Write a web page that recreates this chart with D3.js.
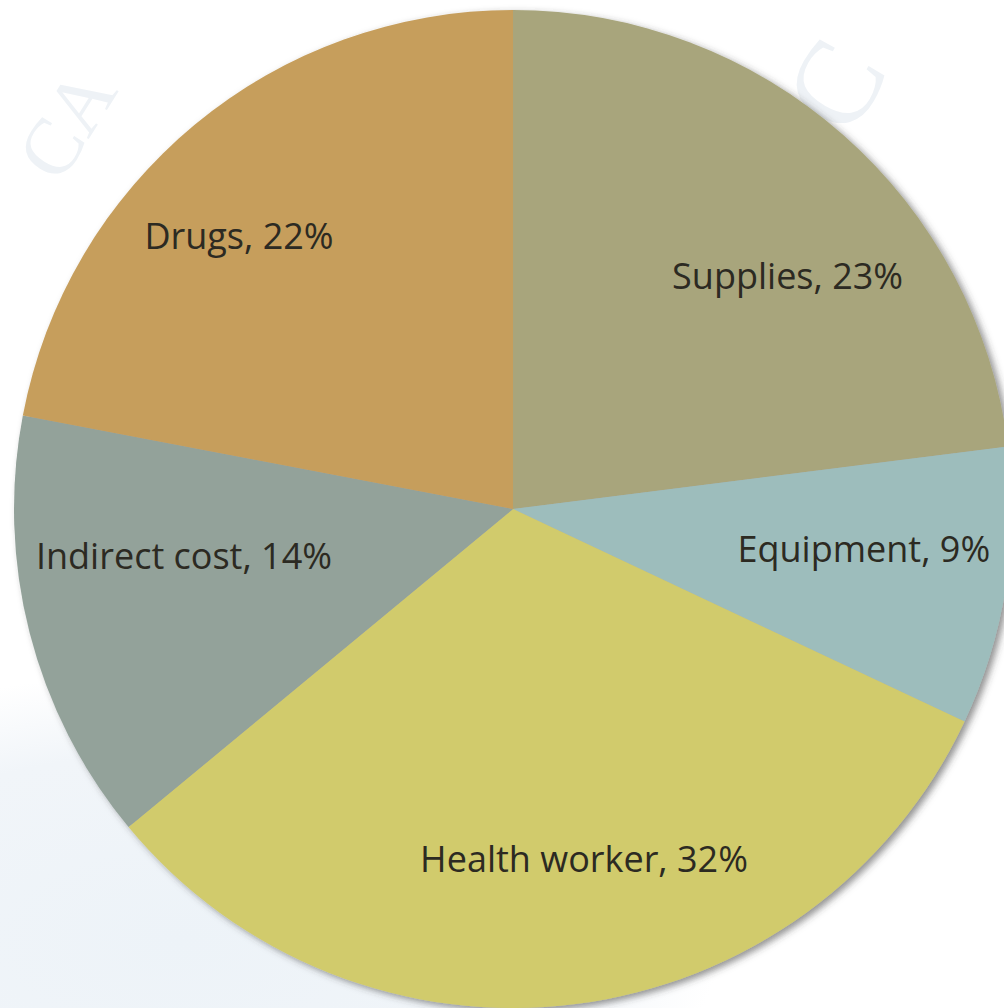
<!DOCTYPE html>
<html>
<head>
<meta charset="utf-8">
<script src="https://cdn.jsdelivr.net/npm/d3@7"></script>
<style>
  html, body { margin: 0; padding: 0; background: #ffffff; }
  svg { display: block; }
</style>
</head>
<body>
<svg id="chart" width="1004" height="1008"></svg>
<script>
// Cost breakdown by category (percent of total)
const categories = ["Supplies", "Equipment", "Health worker", "Indirect cost", "Drugs"];
const shares = [23, 9, 32, 14, 22];
const colors = ["#A8A57C", "#9DBDBC", "#D1CB6C", "#93A29A", "#C69E5C"];

const width = 1004, height = 1008;
const cx = 513, cy = 509, radius = 499;

const svg = d3.select("#chart");
const defs = svg.append("defs");

// soft shadow under the pie
const shadow = defs.append("filter")
  .attr("id", "pieShadow")
  .attr("x", "-10%").attr("y", "-10%")
  .attr("width", "120%").attr("height", "120%");
shadow.append("feDropShadow")
  .attr("dx", 4).attr("dy", 3)
  .attr("stdDeviation", 3.5)
  .attr("flood-color", "#3a3a3a")
  .attr("flood-opacity", 0.55);

// pale backdrop wash in the lower left
const wash = defs.append("radialGradient")
  .attr("id", "wash").attr("cx", "0.2").attr("cy", "0.85").attr("r", "0.6");
wash.append("stop").attr("offset", "0").attr("stop-color", "#EDF3F8");
wash.append("stop").attr("offset", "0.7").attr("stop-color", "#F1F5F9");
wash.append("stop").attr("offset", "1").attr("stop-color", "#ffffff");

svg.append("rect").attr("width", width).attr("height", height).attr("fill", "#ffffff");
svg.append("path")
  .attr("d", "M0,560 C120,700 260,820 520,900 C700,950 820,990 900,1008 L0,1008 Z")
  .attr("fill", "url(#wash)");

// faint watermark lettering in the corners
const mark = svg.append("g")
  .attr("fill", "#EEF2F6")
  .attr("font-family", "'Liberation Serif', 'DejaVu Serif', serif");
mark.append("text").attr("font-size", 80)
  .attr("transform", "translate(60,185) rotate(-58)").text("CA");
mark.append("text").attr("font-size", 120)
  .attr("transform", "translate(850,140) rotate(-60)").text("C");

const pie = d3.pie().sort(null).value(d => d.value);
const arcs = pie(categories.map((c, i) => ({ name: c, value: shares[i], color: colors[i] })));

const arc = d3.arc().innerRadius(0).outerRadius(radius);
const labelArc = d3.arc().innerRadius(radius * 0.72).outerRadius(radius * 0.72);

const g = svg.append("g").attr("transform", `translate(${cx},${cy})`);

g.append("g")
  .attr("filter", "url(#pieShadow)")
  .selectAll("path")
  .data(arcs)
  .join("path")
  .attr("d", arc)
  .attr("fill", d => d.data.color);

// best-fit label nudges from the centroid ring
const labelNudge = {
  "Supplies": [37, 37],
  "Equipment": [-4, -16],
  "Health worker": [26, -6],
  "Indirect cost": [19, -42],
  "Drugs": [-45, 4]
};

g.append("g")
  .selectAll("text")
  .data(arcs)
  .join("text")
  .attr("transform", d => {
    const [x, y] = labelArc.centroid(d);
    const [nx, ny] = labelNudge[d.data.name];
    return `translate(${x + nx},${y + ny})`;
  })
  .attr("text-anchor", "middle")
  .attr("dy", "0.35em")
  .attr("font-family", "'Open Sans', 'Noto Sans', sans-serif")
  .attr("font-size", 36)
  .attr("fill", "#2C2A22")
  .text(d => `${d.data.name}, ${d.data.value}%`);
</script>
</body>
</html>
